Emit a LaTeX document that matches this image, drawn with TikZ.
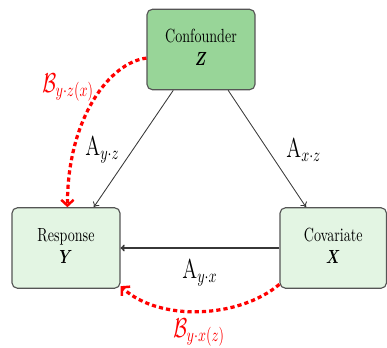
\documentclass[tikz,border=0pt]{standalone}
\usepackage{amsmath}
\usepackage{graphicx}
\usetikzlibrary{arrows.meta}
\definecolor{zfill}{RGB}{152,213,152}
\definecolor{lfill}{RGB}{227,245,227}
\definecolor{bord}{RGB}{85,85,85}
\definecolor{edge}{RGB}{55,55,55}
\definecolor{bred}{RGB}{255,0,0}
\newcommand{\sqz}[1]{\scalebox{0.74}[1]{#1}}
\tikzset{
  varbox/.style={draw=bord, line width=0.6pt, rounded corners=2.8pt, inner sep=0pt,
    minimum width=56.8pt, minimum height=42.3pt, align=center},
  edgearrow/.style={draw=edge, line width=0.45pt, -{To[length=2.5pt,width=4pt]}},
  strongarrow/.style={draw=edge, line width=0.9pt, -{To[length=2.2pt,width=3.6pt]}},
  biasarrow/.style={draw=bred, line width=1.7pt, dash pattern=on 2.2pt off 1.6pt,
    -{Straight Barb[length=3pt,width=6.5pt,line width=1.3pt]}},
  lab/.style={inner sep=0pt, anchor=base west},
  blab/.style={inner sep=0pt, anchor=base west, text=red}
}
\begin{document}
\begin{tikzpicture}[x=0.526pt, y=-0.526pt]
\useasboundingbox (0,0) rectangle (387,347);
\node[varbox, fill=zfill] (Z) at (201,49.5) {\sqz{\begin{tabular}{@{}c@{}}Confounder\\ $\boldsymbol{Z}$\end{tabular}}};
\node[varbox, fill=lfill] (Y) at (66,248) {\sqz{\begin{tabular}{@{}c@{}}Response\\ $\boldsymbol{Y}$\end{tabular}}};
\node[varbox, fill=lfill, minimum width=56.0pt] (X) at (333.25,248) {\sqz{\begin{tabular}{@{}c@{}}Covariate\\ $\boldsymbol{X}$\end{tabular}}};

\draw[edgearrow] (Z) -- (Y);
\draw[edgearrow] (Z) -- (X);
\draw[strongarrow] (X) -- (Y);

\draw[biasarrow] (Z.189) .. controls +(-36,4) and +(0,-90) .. (Y.88);
\draw[biasarrow] (X.214) .. controls +(-40,34) and +(39,36) .. (Y.-35);

\node[lab] (ayz) at (85,155) {\sqz{\Large$\mathrm{A}_{y\cdot z}$}};
\node[lab] (axz) at (286,157) {\sqz{\Large$\mathrm{A}_{x\cdot z}$}};
\node[lab] (ayx) at (182,278) {\sqz{\Large$\mathrm{A}_{y\cdot x}$}};
\node[blab] (byz) at (42,92) {\sqz{\Large$\mathcal{B}_{y\cdot z(x)}$}};
\node[blab] (byx) at (173,337) {\sqz{\Large$\mathcal{B}_{y\cdot x(z)}$}};
\end{tikzpicture}
\end{document}
